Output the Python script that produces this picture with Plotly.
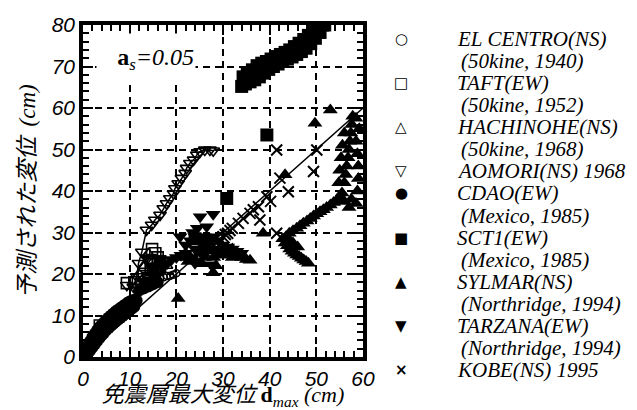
import plotly.graph_objects as go

# ---------------- data (cm) ----------------
elcentro_x = [16.5, 17.3, 18.0, 18.7, 19.3, 20.0, 2.0, 5.0]
elcentro_y = [19.0, 19.2, 19.5, 19.6, 19.8, 20.2, 3.0, 7.5]

taft_x = [3.6, 9.4, 11.0, 12.5, 13.0, 14.0, 14.5, 15.0, 15.5, 16.0, 16.5, 14.8, 16.0]
taft_y = [7.6, 17.8, 18.0, 17.5, 19.5, 19.0, 21.0, 23.0, 25.0, 24.0, 22.0, 26.0, 21.0]

hachinohe_x = [12.0, 13.0, 14.0, 15.0, 16.5, 18.0]
hachinohe_y = [20.0, 22.0, 25.0, 23.0, 21.0, 22.0]

aomori_x = [9.4, 10.8, 11.5, 11.9, 12.6, 13.6, 14.7, 15.4, 16.5, 17.2, 17.9, 18.6, 19.4, 19.7,
            20.4, 21.1, 21.9, 22.2, 22.9, 23.7, 24.4, 25.1, 26.1, 27.2, 27.9]
aomori_y = [17.3, 16.9, 19.4, 22.6, 25.3, 30.6, 31.8, 33.0, 34.2, 35.8, 37.0, 38.2, 39.4, 40.6,
            41.8, 43.1, 44.3, 45.5, 46.7, 47.5, 48.7, 49.5, 49.9, 49.9, 49.7]

cdao_x = [0.5, 1.0, 1.5, 2.0, 2.5, 3.0, 3.5, 4.0, 4.5, 5.0, 5.5, 6.0, 6.5, 7.0, 7.5, 8.0, 8.5,
          9.0, 9.5, 10.0, 10.5, 11.0, 11.5,
          0.5, 1.0, 1.5, 2.0, 2.5, 3.0, 3.5, 4.0, 4.5, 5.0, 5.5, 6.0, 6.5, 7.0, 7.5, 8.0, 8.5,
          9.0, 9.5, 10.0, 10.5, 11.0,
          1.0, 2.0, 3.0, 4.0, 5.0, 6.0, 7.0, 8.0, 9.0,
          12.0, 13.0, 14.0, 15.0, 16.0, 13.5, 15.5]
cdao_y = [1.5, 2.8, 3.8, 4.8, 5.6, 6.4, 7.2, 7.8, 8.4, 9.0, 9.5, 10.0, 10.5, 11.0, 11.4, 11.8, 12.2,
          12.6, 13.0, 13.4, 13.6, 13.8, 13.6,
          0.3, 0.8, 1.5, 2.3, 3.0, 3.8, 4.5, 5.2, 5.8, 6.5, 7.0, 7.5, 8.0, 8.5, 9.0, 9.4, 9.9,
          10.3, 10.8, 11.2, 11.7, 12.1,
          1.6, 3.5, 5.0, 6.5, 7.8, 8.8, 9.8, 10.6, 11.4,
          16.0, 16.5, 17.0, 17.5, 18.0, 18.0, 19.0]

sct1_x = [34.0, 34.3, 34.8, 35.2, 35.8, 36.3, 36.8, 37.3, 37.8, 38.3, 38.8, 39.3, 39.8, 40.3, 40.8,
          41.3, 41.8, 42.3, 42.8, 43.3, 43.8, 44.3, 44.8, 45.3, 45.8, 46.3, 46.8, 47.3, 47.8, 48.3,
          48.8, 49.3, 49.8, 50.3, 50.8, 51.3, 51.8,
          39.4, 30.8, 24.0, 26.0, 15.0, 16.5, 13.5]
sct1_y = [65.2, 67.5, 65.8, 68.2, 66.3, 69.2, 66.8, 70.2, 67.5, 70.8, 68.4, 71.2, 69.3, 71.8, 70.0,
          72.4, 70.6, 72.9, 71.2, 73.4, 71.8, 74.0, 72.3, 74.8, 72.9, 75.6, 73.6, 76.5, 74.4, 77.5,
          75.5, 78.6, 76.8, 79.5, 78.2, 80.0, 80.0,
          53.5, 38.2, 28.5, 27.0, 21.0, 23.0, 17.5]

sylmar_x = [20.4, 27.9, 38.6, 43.3, 49.7, 53.0,
            21.0, 22.0, 23.0, 24.0, 25.0, 26.0, 27.0, 28.0, 29.0, 30.0, 31.0, 32.0, 33.0, 34.0,
            35.0, 35.8, 22.5, 25.5, 28.5, 30.0, 32.0,
            42.8, 43.3, 43.8, 44.3, 44.8, 45.3, 45.8, 46.3, 46.8, 47.3, 47.8, 48.3, 44.0, 45.0, 46.0,
            43.5, 44.2, 45.0, 45.8, 46.5, 47.2, 48.0, 48.7, 49.4, 50.1, 50.8, 51.5, 52.2, 53.0, 53.7,
            54.4, 55.0, 55.5,
            56.0, 56.3, 56.5, 56.8, 57.0, 57.2, 57.4, 57.6, 57.8, 58.5, 55.0, 55.3, 55.6, 56.0,
            58.5, 58.8, 59.0, 59.0, 58.8, 58.5, 57.5, 57.0, 56.0, 59.2, 54.8]
sylmar_y = [14.1, 20.3, 29.8, 43.9, 56.3, 59.5,
            24.0, 25.0, 24.0, 23.5, 25.0, 24.0, 25.5, 24.0, 25.0, 24.5, 25.0, 24.0, 24.5, 24.0,
            23.5, 23.3, 23.0, 22.5, 22.0, 26.0, 26.0,
            28.5, 27.5, 26.8, 26.0, 25.5, 25.0, 24.6, 24.2, 23.8, 23.4, 23.0, 22.6, 28.5, 27.5, 26.5,
            29.0, 29.8, 30.4, 31.0, 31.6, 32.2, 32.8, 33.4, 34.0, 34.5, 35.0, 35.5, 36.0, 36.6, 37.2,
            37.8, 38.5, 39.5,
            42.0, 44.0, 46.0, 48.0, 50.0, 52.0, 54.0, 56.0, 58.0, 57.5, 45.0, 48.0, 51.0, 54.0,
            52.0, 49.0, 46.0, 43.0, 40.0, 37.0, 38.0, 36.0, 37.5, 55.0, 42.0]

tarzana_x = [20.8, 25.1, 27.9, 26.5, 24.0, 27.5, 22.0, 23.0, 24.0, 25.0, 26.0, 27.0, 28.0, 29.0,
             30.0, 31.0, 32.0, 33.0, 34.0, 22.0, 24.0, 26.0, 28.0, 13.5, 14.5, 15.0, 16.0, 17.0,
             18.0, 19.0, 20.0, 21.0, 24.5, 23.5]
tarzana_y = [29.0, 33.8, 34.4, 31.4, 22.6, 22.2, 27.0, 28.0, 29.0, 28.0, 29.0, 28.5, 29.0, 28.0,
             27.0, 26.5, 26.0, 25.5, 25.0, 25.0, 26.0, 26.5, 26.0, 24.0, 22.0, 21.0, 22.0, 21.5,
             22.5, 23.5, 24.0, 24.5, 31.0, 30.0]

kobe_x = [24.0, 25.0, 26.0, 27.0, 28.0, 29.0, 30.0, 31.0, 32.0, 33.3, 34.3, 35.8, 37.6, 39.4,
          37.9, 41.5, 44.0, 42.2, 41.5, 49.4, 50.1, 40.2, 36.5, 31.5, 30.5]
kobe_y = [24.0, 25.0, 25.5, 26.5, 27.0, 28.0, 29.0, 29.8, 31.0, 32.2, 33.4, 34.6, 36.2, 38.6,
          33.0, 29.8, 39.8, 43.1, 49.9, 44.7, 49.9, 37.5, 35.5, 30.5, 29.5]

ideal_x = [0, 60]
ideal_y = [0, 60]

legend_main = ["EL CENTRO(NS)", "TAFT(EW)", "HACHINOHE(NS)", "AOMORI(NS) 1968", "CDAO(EW)",
               "SCT1(EW)", "SYLMAR(NS)", "TARZANA(EW)", "KOBE(NS) 1995"]
legend_sub = ["(50kine, 1940)", "(50kine, 1952)", "(50kine, 1968)", None, "(Mexico, 1985)",
              "(Mexico, 1985)", "(Northridge, 1994)", "(Northridge, 1994)", None]
legend_glyph = ["\u25CB", "\u25A1", "\u25B3", "\u25BD", "\u25CF", "\u25A0", "\u25B2", "\u25BC", "\u00D7"]

x_ticks = [0, 10, 20, 30, 40, 50, 60]
y_ticks = [0, 10, 20, 30, 40, 50, 60, 70, 80]

# ---------------- figure ----------------
# page body has an 8px margin, so figure coords = screen coords - 8
OFF = 8
W, H = 629, 402
L, R, T, B = 75, 274, 17, 53
PW, PH = W - L - R, H - T - B


def px(xs):
    return (xs - OFF - L) / PW


def py(ys):
    return (H - B - (ys - OFF)) / PH


SERIF = "Liberation Serif, Times New Roman, serif"

fig = go.Figure()

fig.add_trace(go.Scatter(x=ideal_x, y=ideal_y, mode="lines", line=dict(color="black", width=1.5),
                         showlegend=False, hoverinfo="skip"))


def add(x, y, name, symbol, size, lw=1.5, mode="markers"):
    fig.add_trace(go.Scatter(
        x=x, y=y, name=name, mode=mode,
        line=dict(color="black", width=1.5),
        marker=dict(symbol=symbol, size=size, color="black",
                    line=dict(color="black", width=lw)),
        showlegend=False, cliponaxis=True))


add(cdao_x, cdao_y, "CDAO(EW)", "circle", 12, 0)
add(sct1_x, sct1_y, "SCT1(EW)", "square", 13, 0)
add(sylmar_x, sylmar_y, "SYLMAR(NS)", "triangle-up", 13, 0)
add(tarzana_x, tarzana_y, "TARZANA(EW)", "triangle-down", 13, 0)
add(kobe_x, kobe_y, "KOBE(NS) 1995", "x-thin-open", 11, 2)
add(taft_x, taft_y, "TAFT(EW)", "square-open", 11, 1.6)
add(hachinohe_x, hachinohe_y, "HACHINOHE(NS)", "triangle-up-open", 10, 1.6)
add(aomori_x, aomori_y, "AOMORI(NS) 1968", "triangle-down-open", 11, 1.6, mode="lines+markers")
add(elcentro_x, elcentro_y, "EL CENTRO(NS)", "circle-open", 7, 1.5)

tickfont = dict(family="Liberation Sans, Arial, sans-serif", size=21, color="black", style="italic")
axis_common = dict(
    showline=True, linecolor="black", linewidth=3.5, mirror="ticks",
    ticks="inside", ticklen=10, tickwidth=2, tickcolor="black",
    showgrid=True, gridcolor="black", gridwidth=2, griddash="7px,5px",
    zeroline=False, tickfont=tickfont, automargin=False,
)

fig.update_xaxes(range=[0, 60], tickvals=x_ticks, ticktext=[str(v) for v in x_ticks],
                 minor=dict(dtick=2, ticks="inside", ticklen=6, tickwidth=1.5, tickcolor="black",
                            showgrid=False),
                 title=dict(text="<i>免震層最大変位</i> <span style=\"font-family:Liberation Serif\"><b>d</b>"
                                 "<sub><i>max</i></sub> <i>(cm)</i></span>",
                            font=dict(family="Noto Sans CJK JP", size=22, color="black"),
                            standoff=4),
                 **axis_common)
fig.update_yaxes(range=[0, 80], tickvals=y_ticks, ticktext=[str(v) for v in y_ticks],
                 minor=dict(dtick=2, ticks="inside", ticklen=6, tickwidth=1.5, tickcolor="black",
                            showgrid=False),
                 title=dict(text="<i>予測された変位</i>  <span style=\"font-family:Liberation Serif\">"
                                 "<i>(cm)</i></span>",
                            font=dict(family="Noto Sans CJK JP", size=23, color="black"),
                            standoff=24),
                 **axis_common)

annotations = []
# a_s = 0.05 label with white box
annotations.append(dict(
    xref="paper", yref="paper", x=px(146), y=py(59), xanchor="center", yanchor="middle",
    text="<b>a</b><sub><i>s</i></sub><i>=0.05</i>", showarrow=False,
    font=dict(family=SERIF, size=24, color="black"),
    bgcolor="white", width=96, height=48, align="right"))

# legend built from text
row = 0
step = 22.07
for main, sub, glyph in zip(legend_main, legend_sub, legend_glyph):
    yc = 39 + step * row
    annotations.append(dict(xref="paper", yref="paper", x=px(401), y=py(yc), xanchor="center",
                            yanchor="middle", text="<b>" + glyph + "</b>", showarrow=False,
                            font=dict(family="DejaVu Sans", size=15, color="black")))
    annotations.append(dict(xref="paper", yref="paper", x=px(455), y=py(yc), xanchor="left",
                            yanchor="middle", text="<i>" + main + "</i>", showarrow=False,
                            font=dict(family=SERIF, size=21, color="black")))
    row += 1
    if sub:
        yc = 39 + step * row
        annotations.append(dict(xref="paper", yref="paper", x=px(459), y=py(yc), xanchor="left",
                                yanchor="middle", text="<i>" + sub + "</i>", showarrow=False,
                                font=dict(family=SERIF, size=21, color="black")))
        row += 1

fig.update_layout(
    template="none", width=W, height=H,
    margin=dict(l=L, r=R, t=T, b=B, pad=0),
    paper_bgcolor="white", plot_bgcolor="white",
    showlegend=False, annotations=annotations,
)

fig.write_html("out.html")
